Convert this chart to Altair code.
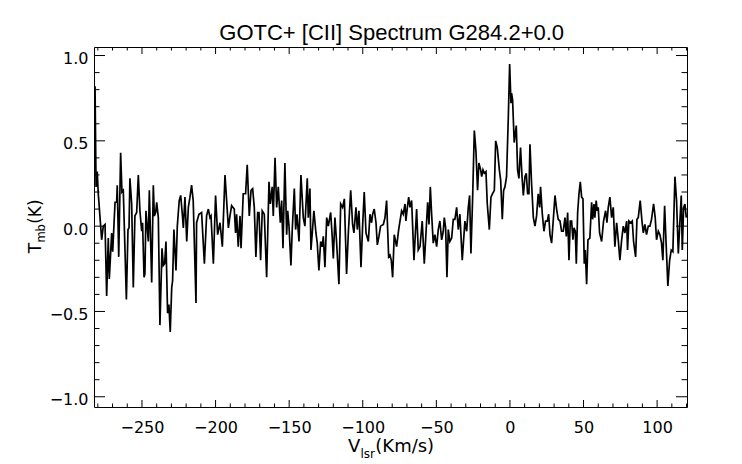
import altair as alt
import pandas as pd

# ---- spectrum values (V_lsr in km/s, T_mb in K) ----
v1 = [-281.9, -281.2, -280.4, -279.7, -278.5, -277.4, -276.3, -275.1, -274.0, -272.9,
      -272.2, -270.6, -269.9, -268.3, -267.2, -266.8, -265.8, -264.5, -263.6, -262.7,
      -260.6, -259.5, -258.8, -258.2, -257.0, -255.9, -254.8, -253.6, -252.5, -251.4,
      -250.2, -249.6, -248.6, -248.0, -247.3, -245.7, -245.0, -243.4, -242.3, -241.6,
      -240.7, -240.0, -238.9, -237.8, -236.4, -235.5, -234.6, -233.7, -232.6, -231.7,
      -230.8, -229.8, -229.2, -228.3, -226.9, -226.0, -224.7, -223.7, -222.6, -221.9,
      -220.8, -219.6, -218.5, -217.4, -216.3, -215.2, -213.3]
t1 = [0.82, 0.23, 0.32, 0.19, 0.05, -0.08, 0.00, 0.01, -0.41, -0.07,
      -0.31, -0.04, -0.15, 0.14, 0.14, 0.24, -0.18, 0.43, 0.20, 0.21,
      -0.43, -0.02, -0.01, 0.28, 0.13, -0.36, 0.06, 0.08, 0.30, 0.09,
      -0.03, 0.02, -0.30, -0.28, 0.09, -0.09, 0.21, -0.33, 0.24, 0.06,
      0.08, 0.14, 0.05, -0.58, -0.13, -0.23, -0.22, -0.09, -0.51, -0.46,
      -0.62, -0.36, -0.32, -0.02, -0.26, 0.00, 0.15, 0.18, 0.07, -0.01,
      0.17, -0.09, 0.11, 0.17, 0.24, 0.15, -0.45]

v2 = [-212.9, -211.3, -209.5, -207.6, -206.1, -204.9, -203.8, -203.1, -201.5, -200.0,
      -198.6, -197.0, -195.4, -193.6, -191.3, -190.2, -189.1, -187.3, -186.4, -185.7,
      -184.6, -183.4, -182.7, -181.2, -179.6, -178.5, -177.1, -175.9, -174.8, -173.7,
      -172.6, -171.4, -170.5, -169.4, -168.3, -166.9, -165.3, -163.7, -162.8, -161.5,
      -160.8, -159.6, -158.5, -157.4, -156.0, -155.1, -154.2, -152.9, -151.7, -151.0,
      -150.1, -148.8, -147.9, -146.5, -145.6, -144.7, -143.3, -142.0]
t2 = [0.02, 0.07, 0.08, -0.22, 0.06, 0.10, 0.05, 0.06, -0.22, 0.18,
      -0.05, 0.02, -0.12, 0.30, -0.01, 0.06, 0.12, 0.10, -0.04, 0.07,
      -0.12, 0.06, -0.13, 0.19, 0.19, 0.36, 0.06, 0.21, 0.22, 0.11,
      -0.18, 0.08, 0.08, -0.20, 0.09, 0.07, -0.30, 0.26, 0.13, 0.23,
      0.06, 0.40, 0.11, 0.23, 0.02, 0.15, -0.13, 0.37, -0.05, 0.09,
      0.00, -0.23, -0.02, 0.22, -0.02, 0.07, -0.09, 0.30]

v3 = [-140.4, -139.3, -137.7, -137.0, -135.9, -135.2, -134.3, -133.2, -131.8, -130.9,
      -129.8, -128.6, -127.5, -126.8, -125.7, -124.5, -123.4, -121.8, -120.9, -120.0,
      -118.9, -117.8, -116.2, -115.0, -113.7, -112.5, -111.0, -109.8, -108.2, -106.9,
      -106.0, -104.6, -103.7, -102.6, -101.2, -100.1, -99.0, -97.8, -96.2, -95.1,
      -94.0, -93.3, -92.2, -91.0, -90.1, -89.0, -87.9, -86.0, -84.9, -83.8,
      -82.4, -81.5, -80.6, -79.7, -78.6, -77.0, -75.6, -73.6, -72.5, -71.3,
      -70.7, -69.7, -68.8, -67.9]
t3 = [0.05, 0.00, 0.28, 0.05, 0.22, -0.14, -0.04, 0.09, -0.04, -0.10,
      -0.26, -0.09, -0.12, -0.06, -0.24, 0.05, 0.00, 0.08, -0.04, -0.19,
      0.05, -0.09, -0.34, 0.13, 0.11, 0.16, -0.28, -0.04, 0.21, 0.01,
      -0.04, 0.11, -0.02, 0.09, -0.24, 0.00, 0.20, -0.04, -0.09, 0.07,
      0.02, 0.07, 0.10, 0.02, -0.11, -0.06, 0.00, 0.01, 0.05, 0.15,
      -0.18, -0.17, -0.20, -0.30, -0.05, -0.12, -0.02, 0.09, 0.07, 0.13,
      0.03, 0.11, 0.17, 0.11]

v4 = [-66.8, -65.2, -63.4, -62.3, -61.1, -59.6, -58.2, -57.1, -55.9, -55.0,
      -54.1, -53.2, -52.1, -51.0, -49.8, -48.7, -47.6, -46.4, -45.3, -44.6,
      -43.7, -42.8, -41.9, -40.8, -39.6, -38.5, -37.4, -36.2, -35.1, -34.0,
      -32.4, -30.6, -29.4, -28.3, -27.4, -26.5, -25.4, -24.2, -23.1, -22.0,
      -21.1, -19.9, -19.2, -18.3, -17.4, -16.3, -15.4, -14.0, -12.9, -11.8,
      -10.6, -9.7, -8.6, -7.2, -6.3, -5.2, -4.3, -3.4, -2.3, -1.1,
      -0.2, 0.7, 1.1, 1.8, 2.9]
t4 = [0.15, -0.20, 0.10, -0.14, -0.12, 0.03, -0.22, -0.05, 0.14, 0.01,
      0.23, 0.07, -0.10, -0.05, -0.12, -0.02, 0.03, -0.08, -0.03, 0.05,
      -0.01, -0.30, -0.02, -0.09, -0.07, 0.04, 0.04, 0.11, -0.02, 0.07,
      -0.20, 0.03, -0.03, 0.11, 0.18, -0.16, 0.15, 0.56, 0.44, 0.21,
      0.37, 0.33, 0.29, 0.33, 0.31, 0.32, 0.13, -0.02, 0.17, 0.19,
      0.21, 0.50, 0.46, 0.33, 0.27, 0.04, 0.21, 0.23, 0.29, 0.64,
      0.95, 0.72, 0.78, 0.74, 0.49]

v5 = [3.6, 4.3, 5.2, 6.1, 7.2, 8.2, 9.1, 10.2, 11.1, 12.0,
      12.9, 13.6, 14.7, 15.9, 17.0, 18.1, 19.2, 20.2, 20.8, 22.0,
      23.1, 24.2, 25.4, 26.3, 27.2, 28.3, 29.4, 30.6, 31.7, 32.8,
      34.0, 35.1, 36.2, 37.4, 38.3, 39.2, 40.1, 41.0, 41.9, 42.8,
      43.5, 44.4, 45.1, 46.0, 46.9, 47.8, 48.7, 49.6, 50.5, 51.2,
      52.1, 53.0, 54.3, 55.5, 56.2, 57.1, 57.7, 58.6, 59.3, 60.0,
      60.9, 62.3, 63.6, 65.0, 65.9, 66.8, 67.9, 69.1, 70.2, 71.3]
t5 = [0.54, 0.59, 0.33, 0.28, 0.46, 0.29, 0.18, 0.29, 0.31, 0.19,
      0.19, 0.48, 0.25, 0.05, 0.00, 0.06, 0.19, 0.11, 0.23, 0.07,
      -0.03, 0.03, 0.03, 0.07, -0.05, -0.10, 0.03, 0.18, 0.10, 0.04,
      0.03, -0.03, -0.03, 0.05, -0.06, 0.08, -0.20, 0.03, 0.03, -0.08,
      -0.01, -0.03, -0.22, 0.08, 0.19, 0.26, 0.17, 0.16, -0.22, -0.14,
      -0.34, -0.08, -0.07, 0.14, 0.04, 0.13, 0.05, 0.15, 0.09, 0.11,
      -0.04, -0.09, 0.03, 0.09, 0.02, 0.11, 0.17, 0.05, 0.11, -0.12]

v6 = [72.5, 73.6, 74.7, 75.9, 77.0, 78.1, 79.3, 79.9, 80.8, 82.0,
      83.1, 84.0, 85.4, 86.3, 87.2, 88.5, 89.7, 90.6, 91.7, 92.8,
      94.0, 95.1, 96.2, 97.6, 98.7, 99.6, 100.8, 101.9, 103.0, 103.9,
      105.1, 106.0, 107.3, 108.5, 109.6, 110.7, 112.1, 113.2, 114.4, 115.5,
      116.4, 117.1, 118.0, 118.9, 119.8]
t6 = [0.02, -0.08, -0.20, -0.08, 0.00, -0.04, 0.03, -0.14, 0.03, 0.02,
      0.03, -0.09, -0.18, 0.04, 0.05, 0.15, 0.03, -0.04, 0.01, -0.05,
      0.00, 0.00, 0.04, 0.13, 0.05, -0.08, -0.03, -0.05, -0.10, -0.20,
      0.12, -0.08, -0.35, -0.20, -0.14, -0.15, 0.29, 0.15, -0.16, 0.03,
      0.18, -0.14, 0.11, 0.13, 0.05]

# ---- axis tick values ----
x_major = [-250, -200, -150, -100, -50, 0, 50, 100]
x_minor = [m for m in range(-280, 121, 10) if m % 50 != 0]
y_major = [-1.0, -0.5, 0.0, 0.5, 1.0]
y_minor = [k / 10 for k in range(-10, 11) if k % 5 != 0]

title_text = "GOTC+ [CII] Spectrum G284.2+0.0"

# ---- build table ----
vs, ts = [], []
for a, b in [(v1, t1), (v2, t2), (v3, t3), (v4, t4), (v5, t5), (v6, t6)]:
    for x, y in zip(a, b):
        vs.append(x)
        ts.append(y)
spec = pd.DataFrame({"v": vs, "T": ts})

W, H = 593, 360
xs = alt.Scale(domain=[-282.6, 120.3], nice=False, zero=False)
ys = alt.Scale(domain=[-1.06, 1.05], nice=False, zero=False)

xax = alt.Axis(values=x_major, format="d", title=None, domain=False, ticks=False,
               tickSize=0, grid=False, labelFont="DejaVu Sans", labelFontSize=16,
               labelColor="black", labelBaseline="alphabetic", labelPadding=25,
               labelOverlap=False, labelFlush=False)
yax = alt.Axis(values=y_major, format=".1f", title=None, domain=False, ticks=False,
               tickSize=0, grid=False, labelFont="DejaVu Sans", labelFontSize=16,
               labelColor="black", labelBaseline="alphabetic", labelPadding=6,
               labelOffset=8, labelOverlap=False, labelFlush=False)

X = alt.X("v:Q", scale=xs, axis=xax)
Y = alt.Y("T:Q", scale=ys, axis=yax)

line = alt.Chart(spec).mark_line(color="black", strokeWidth=1.7, clip=True,
                                 strokeJoin="miter").encode(x=X, y=Y)

xmaj = pd.DataFrame({"v": x_major})
xmin = pd.DataFrame({"v": x_minor})
ymaj = pd.DataFrame({"T": y_major})
ymin = pd.DataFrame({"T": y_minor})

def xt(df, y0, y1):
    return alt.Chart(df).mark_rule(color="black", strokeWidth=1).encode(
        x=X, y=alt.value(y0), y2=alt.value(y1))

def yt(df, x0, x1):
    return alt.Chart(df).mark_rule(color="black", strokeWidth=1).encode(
        y=Y, x=alt.value(x0), x2=alt.value(x1))

ticks = [
    xt(xmaj, H, H - 7), xt(xmin, H, H - 3.5),
    xt(xmaj, 0, 7), xt(xmin, 0, 3.5),
    yt(ymaj, 0, 11), yt(ymin, 0, 5.5),
    yt(ymaj, W, W - 11), yt(ymin, W, W - 5.5),
]

def label(txt, x, y, size, font="DejaVu Sans", angle=0, align="left"):
    kw = dict(font=font, fontSize=size, align=align, baseline="alphabetic", color="black")
    if angle:
        kw["angle"] = angle
    return alt.Chart(pd.DataFrame({"s": [txt]})).mark_text(**kw).encode(
        x=alt.value(x), y=alt.value(y), text="s:N")

texts = [
    label(title_text, 297.7, -6.7, 22, font="Liberation Sans", align="center"),
    label("V", 254, 405.2, 18),
    label("lsr", 266.5, 410.7, 12),
    label("(Km/s)", 281.3, 405.2, 18),
    label("T", -53.3, 206.3, 17, angle=270),
    label("mb", -49, 195.6, 11.5, angle=270),
    label("(K)", -53.3, 176.8, 17, angle=270),
]

chart = alt.layer(line, *ticks, *texts).properties(
    width=W, height=H,
    autosize=alt.AutoSizeParams(type="none"),
    padding={"left": 86, "top": 39, "right": 40, "bottom": 56},
    background="white",
).configure_view(stroke="black", strokeWidth=1)

chart.save("out.html", embed_options={"renderer": "svg", "actions": False})
